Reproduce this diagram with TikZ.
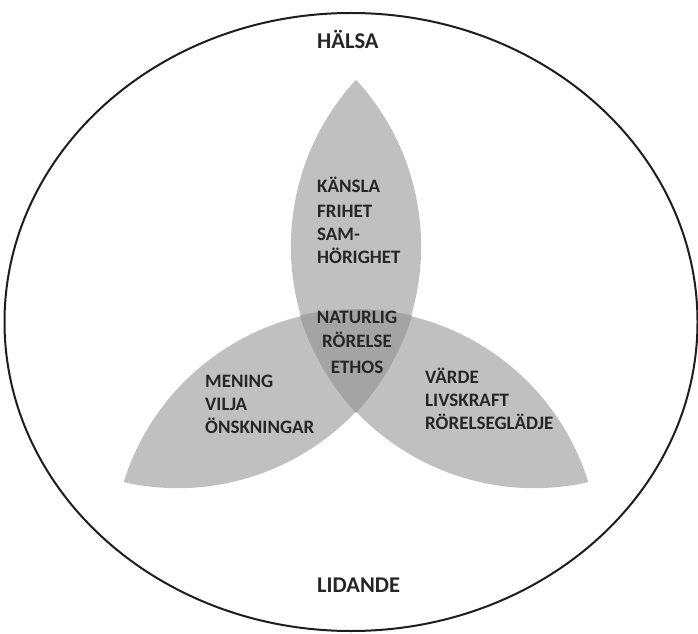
\documentclass[tikz,border=0pt]{standalone}
\usepackage{fontspec}
\setmainfont{Carlito}
\definecolor{lensgray}{HTML}{C0C0C0}
\definecolor{overlapgray}{HTML}{A4A4A4}
\definecolor{txt}{HTML}{262626}
\definecolor{ringcol}{HTML}{1E1E1E}
\tikzset{
  lensfill/.style={fill=lensgray},
  overlapfill/.style={fill=overlapgray},
  ring/.style={draw=ringcol, line width=2pt},
  lbl/.style={text=txt, font=\bfseries\fontsize{19}{23}\selectfont, inner sep=0pt},
  biglbl/.style={text=txt, font=\bfseries\fontsize{22.5}{27}\selectfont, inner sep=0pt},
  lensT/.style={shift={(356pt,285pt)}, rotate=90, shift={(101.5pt,0pt)}},
  lensL/.style={shift={(356pt,285pt)}, rotate=210, shift={(101.5pt,0pt)}},
  lensR/.style={shift={(356pt,285pt)}, rotate=330, shift={(101.5pt,0pt)}},
}
\newcommand\lensshape[1]{\path[#1] (-166.5pt,0pt) arc[start angle=132.7, end angle=47.3, radius=245.7pt] arc[start angle=-47.3, end angle=-132.7, radius=245.7pt] -- cycle;}
\begin{document}
\begin{tikzpicture}[x=1pt,y=1pt]
\useasboundingbox (0,0) rectangle (698,633);
\fill[white] (0,0) rectangle (698,633);
% lenses
\lensshape{lensT,lensfill}
\lensshape{lensL,lensfill}
\lensshape{lensR,lensfill}
% overlaps
\begin{scope}\lensshape{lensT,clip}\lensshape{lensL,overlapfill}\end{scope}
\begin{scope}\lensshape{lensT,clip}\lensshape{lensR,overlapfill}\end{scope}
\begin{scope}\lensshape{lensL,clip}\lensshape{lensR,overlapfill}\end{scope}
% outer ring
\draw[ring] (351,311) ellipse [x radius=346.5pt, y radius=309pt];
% labels
\node[biglbl, anchor=base west] (halsa) at (317,584) {HÄLSA};
\node[biglbl, anchor=base west] (lidande) at (317,41) {LIDANDE};
\node[lbl, anchor=base west] (kansla) at (317,440) {KÄNSLA};
\node[lbl, anchor=base west] (frihet) at (317,416) {FRIHET};
\node[lbl, anchor=base west] (sam) at (317,393) {SAM-};
\node[lbl, anchor=base west] (horighet) at (317,370) {HÖRIGHET};
\node[lbl, anchor=base] (naturlig) at (357,310) {NATURLIG};
\node[lbl, anchor=base] (rorelse) at (357,286) {RÖRELSE};
\node[lbl, anchor=base] (ethos) at (357,260) {ETHOS};
\node[lbl, anchor=base west] (mening) at (205,246) {MENING};
\node[lbl, anchor=base west] (vilja) at (205,223) {VILJA};
\node[lbl, anchor=base west] (onsk) at (205,200) {ÖNSKNINGAR};
\node[lbl, anchor=base west] (varde) at (425,250) {VÄRDE};
\node[lbl, anchor=base west] (livskraft) at (425,227) {LIVSKRAFT};
\node[lbl, anchor=base west] (rorglad) at (425,204) {RÖRELSEGLÄDJE};
\end{tikzpicture}
\end{document}
